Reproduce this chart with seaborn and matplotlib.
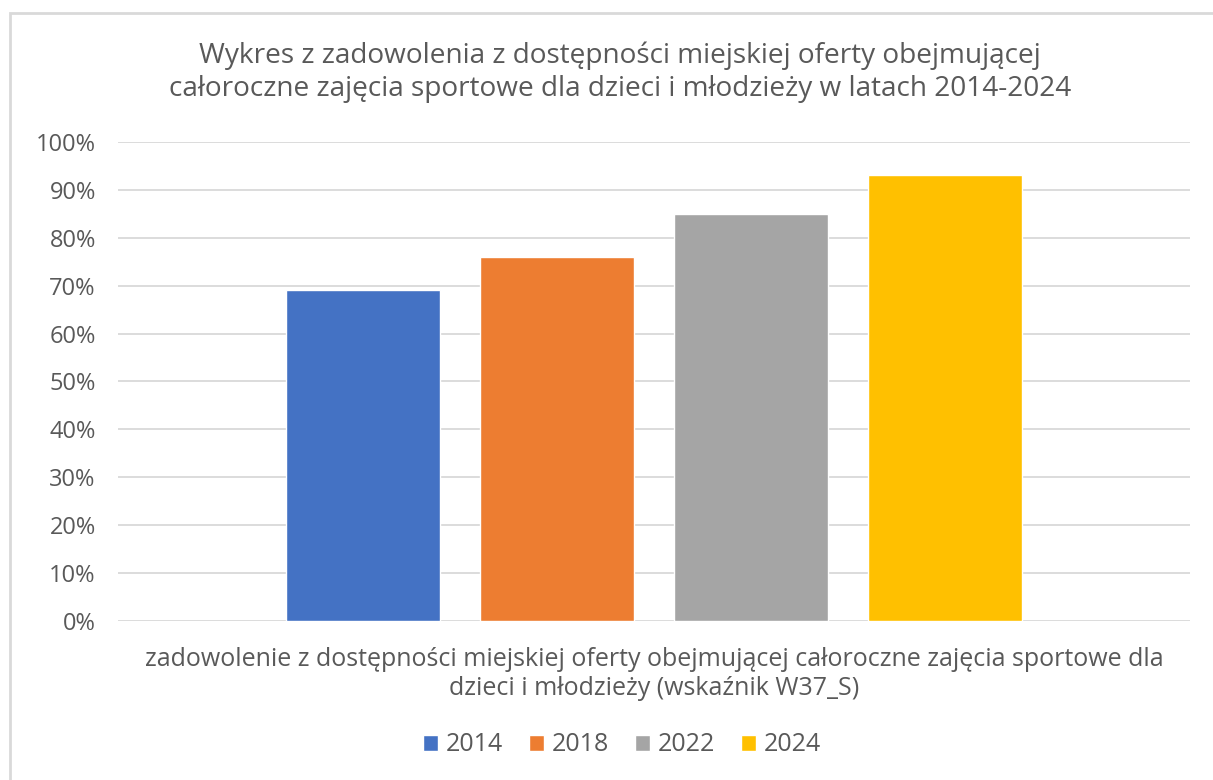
import pandas as pd
import matplotlib.pyplot as plt
import seaborn as sns
from matplotlib.ticker import PercentFormatter
from matplotlib.patches import Rectangle

# Dane
kategoria = "zadowolenie z dostępności miejskiej oferty obejmującej całoroczne zajęcia sportowe dla\ndzieci i młodzieży (wskaźnik W37_S)"
lata = ["2014", "2018", "2022", "2024"]
wartosci = [0.69, 0.76, 0.85, 0.93]
kolory = ["#4472C4", "#ED7D31", "#A5A5A5", "#FFC000"]

df = pd.DataFrame({"kategoria": [kategoria] * len(lata), "rok": lata, "wartosc": wartosci})

sns.set_style("white")
plt.rcParams["font.family"] = ["Open Sans", "DejaVu Sans"]
szary = "#595959"

fig = plt.figure(figsize=(12.13, 7.80), dpi=100)
ax = fig.add_axes([0.0973, 0.2038, 0.8837, 0.6142])

sns.barplot(data=df, x="kategoria", y="wartosc", hue="rok", palette=kolory,
            saturation=1, width=0.724, gap=0.21, ax=ax, legend=True)

ax.set_ylim(0, 1)
ax.set_yticks([i / 10 for i in range(11)])
ax.yaxis.set_major_formatter(PercentFormatter(1.0, decimals=0))
ax.grid(axis="y", color="#D9D9D9", linewidth=1.3)
ax.set_axisbelow(True)
for s in ax.spines.values():
    s.set_visible(False)
ax.tick_params(axis="both", length=0, colors=szary)
ax.tick_params(axis="y", labelsize=17, pad=16)
ax.tick_params(axis="x", labelsize=18, pad=19)
ax.set_xlabel("")
ax.set_ylabel("")

# Tytuł
fig.text(0.511, 0.907, "Wykres z zadowolenia z dostępności miejskiej oferty obejmującej\n"
         "całoroczne zajęcia sportowe dla dzieci i młodzieży w latach 2014-2024",
         ha="center", va="center", fontsize=20.2, color=szary, linespacing=1.25)

# Legenda
leg = ax.legend(loc="center", bbox_to_anchor=(0.513, 0.045), bbox_transform=fig.transFigure,
                ncol=4, frameon=False, fontsize=18, handlelength=0.6, handleheight=0.6,
                handletextpad=0.3, columnspacing=1.05)
for t in leg.get_texts():
    t.set_color(szary)

# Ramka wykresu
fig.patches.append(Rectangle((10 / 1213, -0.1), 1.2, 1 - 13 / 780 + 0.1,
                             transform=fig.transFigure, fill=False,
                             edgecolor="#D9D9D9", linewidth=2))

plt.savefig("out.png", dpi=100)
